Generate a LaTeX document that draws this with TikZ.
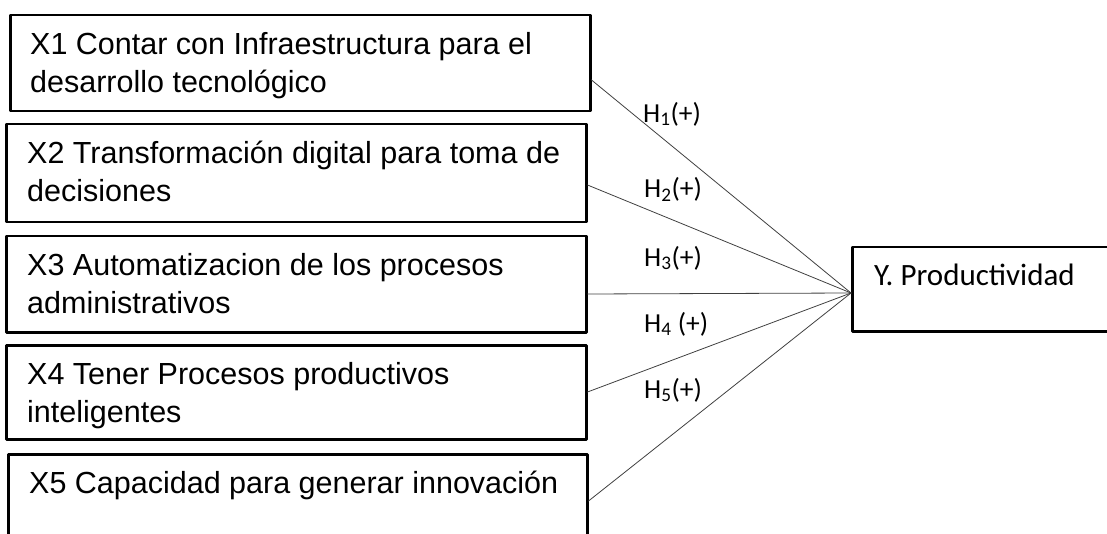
\documentclass[tikz,border=0pt]{standalone}
\usepackage{fontspec}
\setmainfont{Liberation Sans}
\newfontfamily\calibrifont{Carlito}
\usetikzlibrary{positioning}
\tikzset{
  varbox/.style={draw,line width=2.5pt,rectangle,anchor=north west,inner sep=0pt},
  vartext/.style={inner sep=0pt,align=left,font=\fontsize{30.5}{38}\selectfont},
  hyplabel/.style={inner sep=0pt,anchor=west,font=\calibrifont\fontsize{27.5}{32}\selectfont},
  hypline/.style={line width=0.8pt,color=black!75}
}
\begin{document}
\begin{tikzpicture}[line cap=round,line join=round,x=1pt,y=-1pt]
\useasboundingbox (0,0) rectangle (1107,534);
\clip (0,0) rectangle (1107,534);
% boxes
\node[varbox,minimum width=580pt,minimum height=96pt] (x1) at (9,14) {};
\node[varbox,minimum width=580pt,minimum height=98pt] (x2) at (5,123) {};
\node[varbox,minimum width=580pt,minimum height=96pt] (x3) at (5,235) {};
\node[varbox,minimum width=580pt,minimum height=94pt] (x4) at (5,344) {};
\node[varbox,minimum width=579pt,minimum height=110pt] (x5) at (7,453) {};
\node[varbox,minimum width=280pt,minimum height=84pt] (y) at (851,246) {};
% texts
\node[vartext,below right=18pt and 21pt of x1.north west] (t1) {X1 Contar con Infraestructura para el\\desarrollo tecnológico};
\node[vartext,below right=18pt and 22pt of x2.north west] (t2) {X2 Transformación digital para toma de\\decisiones};
\node[vartext,below right=18pt and 22pt of x3.north west] (t3) {X3 Automatizacion de los procesos\\administrativos};
\node[vartext,below right=18pt and 22pt of x4.north west] (t4) {X4 Tener Procesos productivos\\inteligentes};
\node[vartext,below right=18pt and 22pt of x5.north west] (t5) {X5 Capacidad para generar innovación};
\node[hyplabel,font=\calibrifont\fontsize{31}{34}\selectfont,below right=18pt and 23pt of y.north west] (ty) {Y. Productividad};
% connectors
\coordinate (yin) at ([yshift=-47pt]y.north west);
\draw[hypline] ([yshift=-66pt]x1.north east) -- (yin);
\draw[hypline] ([yshift=-62pt]x2.north east) -- (yin);
\draw[hypline] ([yshift=-59pt]x3.north east) -- (yin);
\draw[hypline] ([yshift=-48pt]x4.north east) -- (yin);
\draw[hypline] ([yshift=-48pt]x5.north east) -- (yin);
% labels
\node[hyplabel] (h1) at (643,114) {H\textsubscript{1}(+)};
\node[hyplabel] (h2) at (644,189) {H\textsubscript{2}(+)};
\node[hyplabel] (h3) at (644,258) {H\textsubscript{3}(+)};
\node[hyplabel] (h4) at (644,324) {H\textsubscript{4} (+)};
\node[hyplabel] (h5) at (644,390) {H\textsubscript{5}(+)};
\end{tikzpicture}
\end{document}
